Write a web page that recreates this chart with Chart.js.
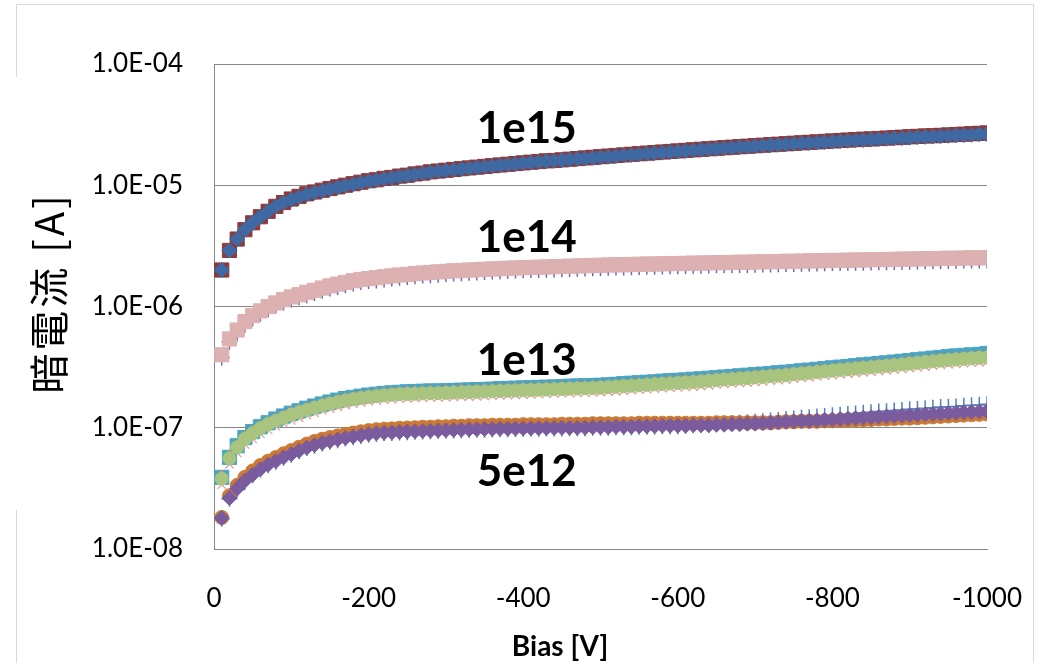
<!DOCTYPE html>
<html>
<head>
<meta charset="utf-8">
<title>暗電流 vs Bias</title>
<script src="https://cdn.jsdelivr.net/npm/chart.js@4.4.0/dist/chart.umd.min.js"></script>
<style>
  html, body { margin: 0; padding: 0; background: #fff; }
  canvas { display: block; }
</style>
</head>
<body>
<canvas id="ivChart" width="1038" height="663"></canvas>
<script>
// bias points [V]
const biasV = [
  -10, -20, -30, -40, -50, -60, -70, -80, -90, -100,
  -110, -120, -130, -140, -150, -160, -170, -180, -190, -200,
  -210, -220, -230, -240, -250, -260, -270, -280, -290, -300,
  -310, -320, -330, -340, -350, -360, -370, -380, -390, -400,
  -410, -420, -430, -440, -450, -460, -470, -480, -490, -500,
  -510, -520, -530, -540, -550, -560, -570, -580, -590, -600,
  -610, -620, -630, -640, -650, -660, -670, -680, -690, -700,
  -710, -720, -730, -740, -750, -760, -770, -780, -790, -800,
  -810, -820, -830, -840, -850, -860, -870, -880, -890, -900,
  -910, -920, -930, -940, -950, -960, -970, -980, -990, -1000
];

// 1e15 group, values in uA (x1e-6 A)
const i1e15Diamond = [
  2.0, 2.9, 3.6, 4.3, 4.9, 5.5, 6.1, 6.7, 7.2, 7.6,
  8.0, 8.4, 8.7, 9.0, 9.3, 9.6, 9.9, 10.2, 10.5, 10.8,
  11.0, 11.3, 11.5, 11.8, 12.0, 12.3, 12.5, 12.8, 13.0, 13.2,
  13.4, 13.6, 13.8, 14.0, 14.2, 14.4, 14.6, 14.8, 15.0, 15.2,
  15.4, 15.6, 15.8, 15.9, 16.1, 16.3, 16.5, 16.6, 16.8, 17.0,
  17.2, 17.4, 17.6, 17.8, 18.0, 18.2, 18.4, 18.6, 18.8, 19.0,
  19.2, 19.4, 19.6, 19.8, 20.0, 20.2, 20.4, 20.6, 20.8, 21.0,
  21.2, 21.4, 21.6, 21.8, 22.0, 22.2, 22.3, 22.5, 22.7, 22.9,
  23.1, 23.3, 23.5, 23.6, 23.8, 24.0, 24.2, 24.4, 24.5, 24.7,
  24.9, 25.1, 25.2, 25.4, 25.6, 25.8, 25.9, 26.1, 26.3, 26.4
];
const i1e15Square = [
  2.0, 2.9, 3.6, 4.3, 4.9, 5.5, 6.1, 6.7, 7.2, 7.7,
  8.1, 8.5, 8.8, 9.1, 9.4, 9.7, 10.0, 10.3, 10.6, 10.9,
  11.1, 11.4, 11.6, 11.9, 12.1, 12.4, 12.6, 12.9, 13.1, 13.3,
  13.5, 13.7, 13.9, 14.1, 14.3, 14.5, 14.7, 14.9, 15.1, 15.3,
  15.5, 15.7, 15.9, 16.0, 16.2, 16.4, 16.6, 16.8, 17.0, 17.2,
  17.4, 17.6, 17.8, 18.0, 18.2, 18.4, 18.6, 18.8, 19.0, 19.2,
  19.4, 19.6, 19.8, 20.0, 20.2, 20.4, 20.6, 20.8, 21.0, 21.2,
  21.4, 21.6, 21.8, 22.0, 22.2, 22.4, 22.6, 22.8, 23.0, 23.2,
  23.4, 23.6, 23.8, 24.0, 24.1, 24.3, 24.5, 24.7, 24.9, 25.1,
  25.3, 25.5, 25.6, 25.8, 26.0, 26.2, 26.4, 26.6, 26.8, 27.0
];
const i1e15Triangle = [
  2.0, 2.8, 3.5, 4.1, 4.7, 5.3, 5.9, 6.4, 6.9, 7.3,
  7.7, 8.1, 8.4, 8.6, 8.9, 9.2, 9.5, 9.8, 10.1, 10.4,
  10.6, 10.8, 11.0, 11.3, 11.5, 11.8, 12.0, 12.3, 12.5, 12.7,
  12.9, 13.1, 13.2, 13.4, 13.6, 13.8, 14.0, 14.2, 14.4, 14.6,
  14.8, 15.0, 15.2, 15.3, 15.5, 15.6, 15.8, 15.9, 16.1, 16.3,
  16.5, 16.7, 16.9, 17.1, 17.3, 17.5, 17.7, 17.9, 18.0, 18.2,
  18.4, 18.6, 18.8, 19.0, 19.2, 19.4, 19.6, 19.8, 20.0, 20.2,
  20.4, 20.5, 20.7, 20.9, 21.1, 21.3, 21.4, 21.6, 21.8, 22.0,
  22.2, 22.4, 22.6, 22.7, 22.8, 23.0, 23.2, 23.4, 23.5, 23.7,
  23.9, 24.1, 24.2, 24.4, 24.6, 24.8, 24.9, 25.1, 25.2, 25.3
];

// 1e14 group, values in x1e-7 A
const i1e14Square = [
  4.0, 5.4, 6.4, 7.5, 8.4, 9.2, 10.0, 10.7, 11.4, 12.0,
  12.5, 13.1, 13.6, 14.2, 14.8, 15.3, 15.8, 16.3, 16.7, 17.0,
  17.3, 17.6, 17.9, 18.2, 18.4, 18.7, 18.9, 19.1, 19.3, 19.5,
  19.7, 19.8, 20.0, 20.1, 20.3, 20.4, 20.5, 20.7, 20.8, 20.9,
  21.0, 21.1, 21.2, 21.3, 21.4, 21.5, 21.6, 21.7, 21.8, 21.9,
  22.0, 22.1, 22.1, 22.2, 22.3, 22.4, 22.4, 22.5, 22.6, 22.6,
  22.7, 22.8, 22.8, 22.9, 23.0, 23.0, 23.1, 23.2, 23.2, 23.3,
  23.4, 23.4, 23.5, 23.6, 23.6, 23.7, 23.8, 23.8, 23.9, 24.0,
  24.0, 24.1, 24.2, 24.2, 24.3, 24.4, 24.4, 24.5, 24.6, 24.6,
  24.7, 24.8, 24.8, 24.9, 25.0, 25.0, 25.1, 25.2, 25.2, 25.3
];
const i1e14Cross = [
  3.8, 5.1, 6.1, 7.1, 8.0, 8.7, 9.5, 10.2, 10.8, 11.4,
  11.9, 12.4, 12.9, 13.5, 14.1, 14.5, 15.0, 15.5, 15.9, 16.2,
  16.4, 16.7, 17.0, 17.3, 17.5, 17.8, 18.0, 18.1, 18.3, 18.5,
  18.7, 18.8, 19.0, 19.1, 19.3, 19.4, 19.5, 19.7, 19.8, 19.9,
  20.0, 20.0, 20.1, 20.2, 20.3, 20.4, 20.5, 20.6, 20.7, 20.8,
  20.9, 21.0, 21.0, 21.1, 21.2, 21.3, 21.3, 21.4, 21.5, 21.5,
  21.6, 21.7, 21.7, 21.8, 21.9, 21.9, 21.9, 22.0, 22.0, 22.1,
  22.2, 22.2, 22.3, 22.4, 22.4, 22.5, 22.6, 22.6, 22.7, 22.8,
  22.8, 22.9, 23.0, 23.0, 23.1, 23.2, 23.2, 23.3, 23.4, 23.4,
  23.5, 23.6, 23.6, 23.7, 23.8, 23.8, 23.9, 23.9, 24.0, 24.0
];

// 1e13 group, values in x1e-7 A
const i1e13Circle = [
  0.38, 0.56, 0.69, 0.81, 0.90, 0.99, 1.07, 1.14, 1.21, 1.28,
  1.34, 1.40, 1.46, 1.52, 1.58, 1.63, 1.68, 1.72, 1.76, 1.79,
  1.82, 1.85, 1.87, 1.89, 1.90, 1.91, 1.92, 1.93, 1.93, 1.94,
  1.95, 1.96, 1.97, 1.98, 1.99, 2.00, 2.01, 2.02, 2.03, 2.04,
  2.05, 2.06, 2.07, 2.08, 2.09, 2.10, 2.11, 2.12, 2.13, 2.14,
  2.16, 2.18, 2.20, 2.22, 2.24, 2.26, 2.28, 2.30, 2.32, 2.34,
  2.36, 2.38, 2.41, 2.44, 2.47, 2.50, 2.52, 2.55, 2.57, 2.60,
  2.63, 2.66, 2.69, 2.72, 2.76, 2.80, 2.84, 2.88, 2.92, 2.96,
  3.00, 3.04, 3.08, 3.12, 3.16, 3.20, 3.24, 3.28, 3.33, 3.38,
  3.43, 3.48, 3.53, 3.58, 3.62, 3.66, 3.70, 3.74, 3.77, 3.80
];
const i1e13Square = [
  0.39, 0.57, 0.71, 0.83, 0.93, 1.02, 1.10, 1.18, 1.25, 1.32,
  1.38, 1.45, 1.51, 1.57, 1.63, 1.69, 1.74, 1.78, 1.82, 1.86,
  1.89, 1.92, 1.94, 1.96, 1.98, 1.99, 2.00, 2.01, 2.01, 2.02,
  2.03, 2.04, 2.05, 2.06, 2.07, 2.08, 2.10, 2.11, 2.12, 2.13,
  2.14, 2.15, 2.16, 2.17, 2.18, 2.20, 2.21, 2.22, 2.23, 2.24,
  2.26, 2.28, 2.31, 2.33, 2.35, 2.37, 2.39, 2.42, 2.44, 2.46,
  2.48, 2.51, 2.53, 2.56, 2.59, 2.62, 2.65, 2.68, 2.71, 2.74,
  2.77, 2.80, 2.84, 2.87, 2.91, 2.95, 2.99, 3.03, 3.07, 3.12,
  3.16, 3.20, 3.25, 3.30, 3.34, 3.39, 3.43, 3.48, 3.53, 3.58,
  3.64, 3.69, 3.75, 3.80, 3.86, 3.91, 3.95, 3.99, 4.03, 4.10
];
const i1e13Triangle = [
  0.39, 0.57, 0.70, 0.83, 0.92, 1.01, 1.09, 1.16, 1.23, 1.31,
  1.37, 1.43, 1.49, 1.55, 1.61, 1.66, 1.71, 1.75, 1.80, 1.83,
  1.86, 1.89, 1.91, 1.93, 1.94, 1.95, 1.96, 1.97, 1.97, 1.98,
  1.99, 2.00, 2.01, 2.02, 2.03, 2.04, 2.05, 2.06, 2.07, 2.08,
  2.09, 2.10, 2.11, 2.12, 2.13, 2.14, 2.15, 2.16, 2.17, 2.18,
  2.20, 2.22, 2.24, 2.26, 2.28, 2.31, 2.33, 2.35, 2.37, 2.39,
  2.41, 2.43, 2.46, 2.49, 2.52, 2.55, 2.57, 2.60, 2.62, 2.65,
  2.68, 2.71, 2.74, 2.77, 2.82, 2.86, 2.90, 2.94, 2.98, 3.02,
  3.06, 3.10, 3.14, 3.18, 3.22, 3.26, 3.30, 3.35, 3.40, 3.45,
  3.50, 3.55, 3.60, 3.65, 3.69, 3.73, 3.77, 3.81, 3.85, 3.88
];
const i1e13X = [
  0.34, 0.50, 0.62, 0.73, 0.81, 0.89, 0.96, 1.03, 1.09, 1.15,
  1.21, 1.27, 1.33, 1.39, 1.44, 1.49, 1.54, 1.58, 1.62, 1.65,
  1.68, 1.70, 1.72, 1.74, 1.75, 1.76, 1.77, 1.78, 1.78, 1.79,
  1.80, 1.81, 1.81, 1.82, 1.83, 1.84, 1.85, 1.86, 1.87, 1.88,
  1.89, 1.90, 1.91, 1.92, 1.93, 1.94, 1.94, 1.95, 1.96, 1.97,
  1.99, 2.00, 2.02, 2.04, 2.06, 2.08, 2.10, 2.12, 2.13, 2.15,
  2.17, 2.19, 2.21, 2.24, 2.27, 2.30, 2.32, 2.35, 2.36, 2.39,
  2.42, 2.45, 2.47, 2.50, 2.54, 2.58, 2.61, 2.65, 2.69, 2.72,
  2.76, 2.80, 2.83, 2.87, 2.91, 2.94, 2.98, 3.02, 3.06, 3.11,
  3.15, 3.20, 3.25, 3.30, 3.34, 3.37, 3.41, 3.44, 3.47, 3.50
];

// 5e12 group, values in x1e-8 A
const i5e12Diamond = [
  1.80, 2.63, 3.15, 3.65, 4.10, 4.55, 4.95, 5.30, 5.70, 6.05,
  6.45, 6.85, 7.20, 7.50, 7.75, 8.00, 8.25, 8.45, 8.65, 8.85,
  9.00, 9.10, 9.15, 9.25, 9.30, 9.35, 9.40, 9.45, 9.50, 9.55,
  9.60, 9.65, 9.70, 9.72, 9.75, 9.78, 9.80, 9.83, 9.86, 9.88,
  9.90, 9.92, 9.94, 9.96, 9.98, 10.0, 10.0, 10.0, 10.1, 10.1,
  10.1, 10.2, 10.2, 10.2, 10.3, 10.3, 10.3, 10.4, 10.4, 10.4,
  10.4, 10.5, 10.5, 10.5, 10.6, 10.6, 10.7, 10.7, 10.8, 10.8,
  10.9, 11.0, 11.1, 11.2, 11.3, 11.4, 11.4, 11.5, 11.6, 11.7,
  11.8, 11.9, 12.0, 12.1, 12.2, 12.3, 12.4, 12.5, 12.6, 12.7,
  12.8, 12.9, 13.0, 13.1, 13.2, 13.3, 13.4, 13.5, 13.6, 13.7
];
const i5e12Circle = [
  1.82, 2.75, 3.35, 3.90, 4.40, 4.88, 5.30, 5.68, 6.10, 6.48,
  6.90, 7.33, 7.70, 8.03, 8.30, 8.56, 8.83, 9.04, 9.26, 9.47,
  9.63, 9.74, 9.79, 9.90, 9.95, 10.0, 10.1, 10.1, 10.2, 10.2,
  10.3, 10.3, 10.4, 10.4, 10.4, 10.5, 10.5, 10.5, 10.5, 10.6,
  10.6, 10.6, 10.6, 10.6, 10.7, 10.7, 10.7, 10.7, 10.8, 10.8,
  10.8, 10.8, 10.8, 10.8, 10.9, 10.9, 10.9, 10.9, 10.9, 10.9,
  10.9, 10.9, 10.9, 10.9, 11.0, 11.0, 11.0, 11.0, 11.0, 11.0,
  11.0, 11.0, 11.1, 11.2, 11.2, 11.3, 11.3, 11.3, 11.4, 11.4,
  11.5, 11.5, 11.6, 11.6, 11.7, 11.8, 11.8, 11.9, 12.0, 12.0,
  12.1, 12.2, 12.3, 12.4, 12.5, 12.6, 12.7, 12.8, 12.9, 13.0
];
const i5e12Cross = [
  1.78, 2.60, 3.10, 3.60, 4.05, 4.50, 4.90, 5.25, 5.65, 6.00,
  6.40, 6.80, 7.10, 7.40, 7.65, 7.90, 8.15, 8.35, 8.55, 8.75,
  8.90, 9.00, 9.05, 9.15, 9.20, 9.25, 9.30, 9.35, 9.40, 9.45,
  9.50, 9.55, 9.60, 9.62, 9.65, 9.68, 9.70, 9.73, 9.76, 9.78,
  9.80, 9.82, 9.84, 9.86, 9.88, 9.90, 9.90, 9.90, 10.0, 10.0,
  10.0, 10.1, 10.1, 10.1, 10.2, 10.2, 10.2, 10.3, 10.3, 10.3,
  10.4, 10.5, 10.6, 10.6, 10.7, 10.8, 10.9, 11.0, 11.1, 11.2,
  11.3, 11.5, 11.6, 11.8, 11.9, 12.1, 12.2, 12.4, 12.5, 12.7,
  12.8, 13.0, 13.1, 13.3, 13.4, 13.6, 13.7, 13.9, 14.0, 14.2,
  14.3, 14.5, 14.6, 14.8, 14.9, 15.0, 15.2, 15.3, 15.4, 15.6
];

const yTickValues = [1e-8, 1e-7, 1e-6, 1e-5, 1e-4];
const yTickLabels = ['1.0E-08', '1.0E-07', '1.0E-06', '1.0E-05', '1.0E-04'];
const xTickStep = 200;

// group labels, anchored in data coords (left edge, baseline)
const groupNames = ['1e15', '1e14', '1e13', '5e12'];
const groupAnchorV = -340;
const groupAnchorI = [2.23e-5, 2.82e-6, 2.73e-7, 3.32e-8];

const GRID = '#868686';
const FONT = 'Lato, "Noto Sans", sans-serif';

function series(label, vals, unit, style, color, radius, bw) {
  return {
    label,
    data: vals.map((v, i) => ({ x: biasV[i], y: v * unit })),
    showLine: false,
    pointStyle: style,
    pointRadius: radius,
    pointHoverRadius: radius,
    backgroundColor: color,
    borderColor: color,
    borderWidth: bw || 1
  };
}

// first dataset is painted on top in Chart.js
const datasets = [
  series('1e15 #1', i1e15Diamond, 1e-6, 'rectRot', '#3F69A3', 7.5),
  series('1e15 #2', i1e15Square, 1e-6, 'rect', '#8E3A3A', 10),
  series('1e15 #3', i1e15Triangle, 1e-6, 'triangle', '#71893F', 7),
  series('1e14 #1', i1e14Square, 1e-7, 'rect', '#DDB1B1', 10),
  series('1e14 #2', i1e14Cross, 1e-7, 'cross', '#7468B0', 8, 1.5),
  series('1e13 #1', i1e13Circle, 1e-7, 'circle', '#A9C47F', 6.5),
  series('1e13 #2', i1e13Triangle, 1e-7, 'triangle', '#EC8B3E', 7),
  series('1e13 #3', i1e13Square, 1e-7, 'rect', '#4AA5C4', 10),
  series('1e13 #4', i1e13X, 1e-7, 'crossRot', '#E49C9C', 6, 1.2),
  series('5e12 #1', i5e12Diamond, 1e-8, 'rectRot', '#7A5C9E', 7.5),
  series('5e12 #2', i5e12Circle, 1e-8, 'circle', '#CC7A33', 7),
  series('5e12 #3', i5e12Cross, 1e-8, 'cross', '#4F81BD', 8, 1.5)
];

const decor = {
  id: 'decor',
  beforeDraw(chart) {
    const ctx = chart.ctx;
    ctx.save();
    ctx.fillStyle = '#fff';
    ctx.fillRect(0, 0, chart.width, chart.height);
    // outer frame of the sheet chart
    ctx.strokeStyle = '#d9d9d9';
    ctx.lineWidth = 1;
    ctx.beginPath();
    ctx.moveTo(16.5, 77); ctx.lineTo(16.5, 4.5); ctx.lineTo(1033.5, 4.5); ctx.lineTo(1033.5, 663);
    ctx.moveTo(16.5, 510); ctx.lineTo(16.5, 663);
    ctx.stroke();
    ctx.restore();
  },
  afterDraw(chart) {
    const ctx = chart.ctx;
    const xs = chart.scales.x, ys = chart.scales.y;
    ctx.save();
    ctx.fillStyle = '#000';
    // y title
    ctx.translate(49, 293);
    ctx.rotate(-Math.PI / 2);
    ctx.font = '40px "Noto Sans CJK JP"';
    ctx.letterSpacing = '3px';
    ctx.textAlign = 'center';
    ctx.textBaseline = 'middle';
    ctx.fillText('暗電流 [A]', 0, 0);
    ctx.restore();

    ctx.save();
    ctx.fillStyle = '#000';
    ctx.font = 'bold 28px ' + FONT;
    ctx.textAlign = 'center';
    ctx.textBaseline = 'middle';
    ctx.fillText('Bias [V]', 560, 647);

    ctx.font = 'bold 44px ' + FONT;
    ctx.textAlign = 'left';
    ctx.textBaseline = 'alphabetic';
    const gx = xs.getPixelForValue(groupAnchorV);
    groupNames.forEach((name, i) => {
      ctx.fillText(name, gx, ys.getPixelForValue(groupAnchorI[i]));
    });
    ctx.restore();
  }
};

new Chart(document.getElementById('ivChart'), {
  type: 'scatter',
  data: { datasets },
  options: {
    responsive: false,
    animation: false,
    events: [],
    layout: { padding: { top: 64, right: 51, bottom: 0, left: 0 } },
    plugins: {
      legend: { display: false },
      tooltip: { enabled: false }
    },
    scales: {
      x: {
        type: 'linear',
        min: -1000,
        max: 0,
        reverse: true,
        grid: { display: false, drawTicks: false },
        border: { display: true, color: GRID, width: 1 },
        ticks: {
          stepSize: xTickStep,
          padding: 34,
          color: '#000',
          font: { family: FONT, size: 26 },
          callback: v => String(v)
        },
        afterFit: s => { s.height = 114; s.paddingLeft = 0; s.paddingRight = 0; }
      },
      y: {
        type: 'logarithmic',
        min: 1e-8,
        max: 1e-4,
        afterBuildTicks: s => { s.ticks = yTickValues.map(v => ({ value: v })); },
        grid: { color: GRID, lineWidth: 1, drawTicks: false },
        border: { display: true, color: GRID, width: 1 },
        ticks: {
          padding: 31,
          color: '#000',
          font: { family: FONT, size: 26 },
          callback: (v, i) => yTickLabels[i]
        },
        afterFit: s => { s.width = 214; s.paddingTop = 0; s.paddingBottom = 0; }
      }
    }
  },
  plugins: [decor]
});
</script>
</body>
</html>
